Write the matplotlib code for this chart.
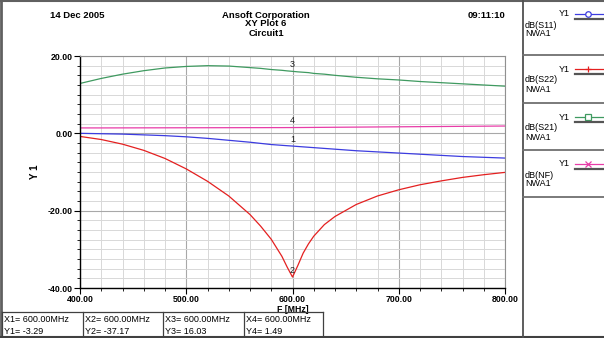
import matplotlib
matplotlib.use("Agg")
import matplotlib.pyplot as plt
from matplotlib.lines import Line2D
import numpy as np

plt.rcParams['font.family'] = ['Liberation Sans', 'DejaVu Sans']

W, H = 604, 338

# Frequency sweep [MHz]
freq = [400, 420, 440, 460, 480, 500, 520, 540, 560, 570, 580, 590, 595,
        600, 605, 610, 615, 620, 630, 640, 660, 680, 700, 720, 740, 760, 780, 800]

# dB(S11)
s11 = [0.0, -0.1, -0.2, -0.4, -0.6, -0.9, -1.3, -1.8, -2.3, -2.6, -2.9, -3.1, -3.2,
       -3.29, -3.4, -3.5, -3.6, -3.7, -3.9, -4.1, -4.5, -4.8, -5.1, -5.4, -5.7, -6.0, -6.2, -6.4]
# dB(S22)
s22 = [-0.8, -1.6, -2.8, -4.4, -6.5, -9.2, -12.4, -16.2, -21.0, -24.0, -27.4, -31.8, -34.6,
       -37.17, -34.2, -31.0, -28.6, -26.6, -23.6, -21.5, -18.4, -16.2, -14.6, -13.3, -12.3,
       -11.4, -10.7, -10.1]
# dB(S21)
s21 = [12.9, 14.2, 15.3, 16.2, 16.9, 17.3, 17.5, 17.4, 17.0, 16.8, 16.5, 16.3, 16.15,
       16.03, 15.9, 15.8, 15.7, 15.5, 15.3, 15.0, 14.5, 14.1, 13.8, 13.4, 13.1, 12.8, 12.5, 12.2]
# dB(NF)
nf = [1.40, 1.40, 1.41, 1.42, 1.43, 1.44, 1.45, 1.46, 1.47, 1.47, 1.48, 1.48, 1.49,
      1.49, 1.50, 1.51, 1.52, 1.53, 1.55, 1.57, 1.61, 1.65, 1.69, 1.73, 1.77, 1.81, 1.85, 1.89]

series_names = ["dB(S11)", "dB(S22)", "dB(S21)", "dB(NF)"]
series_colors = ["#3c3ce0", "#e42020", "#3f9a60", "#e83ca8"]
series_markers = ["o", "+", "s", "x"]

marker_freq = 600.0
marker_vals = [-3.29, -37.17, 16.03, 1.49]

xticks = [400, 500, 600, 700, 800]
yticks = [20, 0, -20, -40]

fig = plt.figure(figsize=(W / 100, H / 100), dpi=100)


def fx(px):
    return px / W


def fy(py):
    return 1 - py / H


# Plot axes
L, R, T, B = 80, 505, 56, 288
ax = fig.add_axes([fx(L), fy(B), fx(R) - fx(L), fy(T) - fy(B)])
ax.set_xlim(400, 800)
ax.set_ylim(-40, 20)

ax.set_xticks(xticks)
ax.set_xticks(np.arange(400, 801, 20), minor=True)
ax.set_yticks(yticks)
ax.set_yticks(np.arange(-40, 20.1, 2.5), minor=True)
ax.set_xticklabels(["%.2f" % v for v in xticks], fontsize=6.3, fontweight='bold')
ax.set_yticklabels(["%.2f" % v for v in yticks], fontsize=6.3, fontweight='bold')
ax.grid(which='minor', color='#d8d8d8', linewidth=0.7)
ax.grid(which='major', color='#a8a8a8', linewidth=0.8)
ax.set_axisbelow(True)
ax.tick_params(which='major', direction='out', length=4, width=0.8, pad=1)
ax.tick_params(which='minor', direction='out', length=2, width=0.6)
for s in ['top', 'right']:
    ax.spines[s].set_color('#909090')
    ax.spines[s].set_linewidth(0.8)
for s in ['left', 'bottom']:
    ax.spines[s].set_color('black')
    ax.spines[s].set_linewidth(1.0)

all_series = [s11, s22, s21, nf]
for vals, c in zip(all_series, series_colors):
    ax.plot(freq, vals, color=c, linewidth=0.9)

for i, v in enumerate(marker_vals):
    ax.annotate(str(i + 1), (marker_freq, v), xytext=(0, 1.5), textcoords='offset points',
                ha='center', va='bottom', fontsize=6.5, color='#202020')

ax.set_ylabel("Y 1", fontsize=7, fontweight='bold', labelpad=6)
ax.set_xlabel("F [MHz]", fontsize=6.3, fontweight='bold', labelpad=1)

# Header
fig.text(fx(50), fy(15), "14 Dec 2005", fontsize=6.8, fontweight='bold', ha='left', va='center')
fig.text(fx(266), fy(15), "Ansoft Corporation", fontsize=6.8, fontweight='bold', ha='center', va='center')
fig.text(fx(266), fy(24), "XY Plot 6", fontsize=6.8, fontweight='bold', ha='center', va='center')
fig.text(fx(266), fy(33), "Circuit1", fontsize=6.8, fontweight='bold', ha='center', va='center')
fig.text(fx(505), fy(15), "09:11:10", fontsize=6.8, fontweight='bold', ha='right', va='center')


# Frame lines
def hline(x0, x1, y, color='#707070', lw=1.2):
    fig.add_artist(Line2D([fx(x0), fx(x1)], [fy(y), fy(y)], color=color, linewidth=lw))


def vline(x, y0, y1, color='#707070', lw=1.2):
    fig.add_artist(Line2D([fx(x), fx(x)], [fy(y0), fy(y1)], color=color, linewidth=lw))


vline(1, 0, H, color='#606060', lw=2.0)
hline(0, W, 0.5, color='#606060', lw=1.5)
hline(0, W, 337, color='#404040', lw=1.5)
vline(523, 0, H, color='#505050', lw=1.3)

# Legend panel
cell_tops = [0, 55, 103, 150]
for k, (name, c, m) in enumerate(zip(series_names, series_colors, series_markers)):
    t = cell_tops[k]
    fig.text(fx(570), fy(t + 14), "Y1", fontsize=6.5, ha='right', va='center')
    fig.add_artist(Line2D([fx(575), fx(604)], [fy(t + 14), fy(t + 14)], color=c, linewidth=0.9))
    fig.add_artist(Line2D([fx(588)], [fy(t + 14)], color=c, marker=m, markersize=4,
                          markerfacecolor='white', markeredgewidth=0.9, linestyle='none'))
    fig.add_artist(Line2D([fx(575), fx(604)], [fy(t + 19), fy(t + 19)], color='#555555', linewidth=1.6))
    fig.text(fx(525), fy(t + 25), name, fontsize=6.5, ha='left', va='center')
    fig.text(fx(525), fy(t + 34), "NWA1", fontsize=6.5, ha='left', va='center')
for y in [55, 103, 150, 197]:
    hline(523, W, y, color='#707070', lw=1.3)

# Marker readout table
tb_top, tb_bot = 312, 337
edges = [2, 83, 163, 244, 323]
hline(2, 323, tb_top, color='#404040', lw=0.9)
for x in edges:
    vline(x, tb_top, tb_bot, color='#404040', lw=0.9)
for i, v in enumerate(marker_vals):
    x0 = edges[i] + 2
    fig.text(fx(x0), fy(320), "X%d= %.2fMHz" % (i + 1, marker_freq), fontsize=6.5, ha='left', va='center')
    fig.text(fx(x0), fy(331), "Y%d= %.2f" % (i + 1, v), fontsize=6.5, ha='left', va='center')

fig.savefig("out.png", dpi=100)
